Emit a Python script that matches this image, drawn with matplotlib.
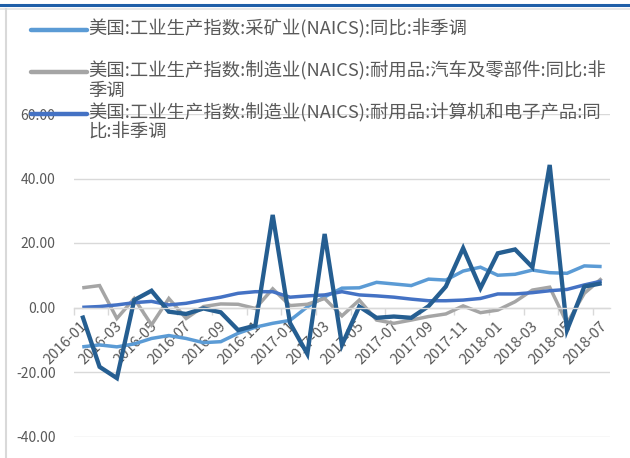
import matplotlib
matplotlib.use("Agg")
import matplotlib.pyplot as plt
import matplotlib.transforms as mtransforms
from matplotlib.lines import Line2D
import numpy as np

plt.rcParams['font.family'] = ['Noto Sans CJK SC', 'DejaVu Sans']

categories = ["2016-01", "2016-02", "2016-03", "2016-04", "2016-05", "2016-06",
              "2016-07", "2016-08", "2016-09", "2016-10", "2016-11", "2016-12",
              "2017-01", "2017-02", "2017-03", "2017-04", "2017-05", "2017-06",
              "2017-07", "2017-08", "2017-09", "2017-10", "2017-11", "2017-12",
              "2018-01", "2018-02", "2018-03", "2018-04", "2018-05", "2018-06",
              "2018-07"]

mining = [-12.2, -11.6, -12.2, -11.3, -9.6, -8.7, -9.6, -10.9, -10.6, -8.0, -6.1,
          -4.9, -4.0, 0.2, 3.3, 6.0, 6.1, 7.8, 7.3, 6.8, 8.8, 8.5, 11.3, 12.5,
          10.0, 10.3, 11.6, 10.8, 10.6, 12.9, 12.7]
auto = [6.1, 6.8, -3.4, 2.8, -5.4, 2.8, -3.4, 0.3, 1.1, 1.0, -0.3, 5.8, 0.6,
        1.0, 2.8, -2.6, 2.3, -3.9, -4.9, -3.9, -2.8, -2.0, 0.5, -1.6, -0.8,
        1.8, 5.4, 6.3, -4.9, 4.4, 9.0]
computer = [0.05, 0.3, 0.8, 1.5, 1.9, 0.8, 1.3, 2.3, 3.2, 4.4, 4.9, 4.9, 3.2,
            3.6, 3.9, 4.9, 3.9, 3.6, 3.2, 2.6, 2.1, 2.1, 2.3, 2.8, 4.2, 4.2,
            4.6, 5.2, 5.6, 7.0, 8.2]
series4 = [-2.5, -18.4, -21.9, 2.3, 5.2, -1.3, -2.0, -0.3, -1.5, -7.0, -5.6,
           28.7, -4.8, -14.4, 22.8, -11.6, 0.3, -3.2, -2.8, -3.2, 0.4, 6.5,
           18.4, 6.0, 16.8, 18.0, 12.5, 44.2, -7.0, 6.5, 7.5]

labels = ["美国:工业生产指数:采矿业(NAICS):同比:非季调",
          "美国:工业生产指数:制造业(NAICS):耐用品:汽车及零部件:同比:非\n季调",
          "美国:工业生产指数:制造业(NAICS):耐用品:计算机和电子产品:同\n比:非季调"]

yticks = [-40, -20, 0, 20, 40, 60]

colors = ["#5B9BD5", "#A5A5A5", "#4472C4", "#255E91"]
widths = [2.5, 2.5, 2.5, 3.1]

W, H = 630, 458
fig = plt.figure(figsize=(W / 100, H / 100), dpi=100)
ax = fig.add_axes([73.6 / W, 1 - 436.5 / H, 536.7 / W, 322.5 / H])

x = np.arange(len(categories))
all_series = [mining, auto, computer, series4]
for s, c, lw in zip(all_series, colors, widths):
    ax.plot(x, s, color=c, lw=lw, solid_joinstyle='miter', solid_capstyle='butt')

ax.set_xlim(-0.5, len(categories) - 0.5)
ax.set_ylim(-40, 60)
ax.set_yticks(yticks)
ax.set_yticklabels([f"{v:.2f}" for v in yticks])
ax.yaxis.grid(True, color="#D9D9D9", lw=1)
ax.set_axisbelow(True)
for sp in ['left', 'right', 'top']:
    ax.spines[sp].set_visible(False)
ax.spines['bottom'].set_position(('data', 0))
ax.spines['bottom'].set_color("#D9D9D9")
ax.spines['bottom'].set_linewidth(1)
ax.tick_params(axis='y', length=0, pad=13, labelsize=10, labelcolor="#595959")

ax.set_xticks(x[::2])
ax.set_xticklabels(categories[::2], rotation=45, ha='right', va='center',
                   rotation_mode='anchor', fontsize=10.6, color="#595959")
ax.set_xticks(np.arange(-0.5, len(categories) - 0.5, 2), minor=True)
ax.tick_params(axis='x', which='major', length=0, pad=12)
ax.tick_params(axis='x', which='minor', length=5, color="#D9D9D9", width=1)
shift = mtransforms.ScaledTranslation(3 / 100, 0, fig.dpi_scale_trans)
for lbl in ax.get_xticklabels():
    lbl.set_transform(lbl.get_transform() + shift)

# frame decorations
fig.add_artist(Line2D([0, 1], [1 - 5 / H, 1 - 5 / H], color="#1F5FA8", lw=2.2))
fig.add_artist(Line2D([0, 1], [1 - 8.5 / H, 1 - 8.5 / H], color="#E3E3E3", lw=1.2))
fig.add_artist(Line2D([5.5 / W, 5.5 / W], [0, 1 - 9 / H], color="#D9D9D9", lw=1.5))

# legend (manual, transparent, overlapping the plot like the reference)
leg_y = [30, 72, 114]
for lab, c, yy in zip(labels, colors[:3], leg_y):
    fy = 1 - yy / H
    fig.add_artist(Line2D([31 / W, 87 / W], [fy, fy], color=c, lw=3.2,
                          solid_capstyle='round'))
    fig.text(88 / W, 1 - (yy - 11) / H, lab, ha='left', va='top',
             fontsize=13.2, color="#595959", linespacing=1.1)

fig.savefig("out.png", dpi=100)
